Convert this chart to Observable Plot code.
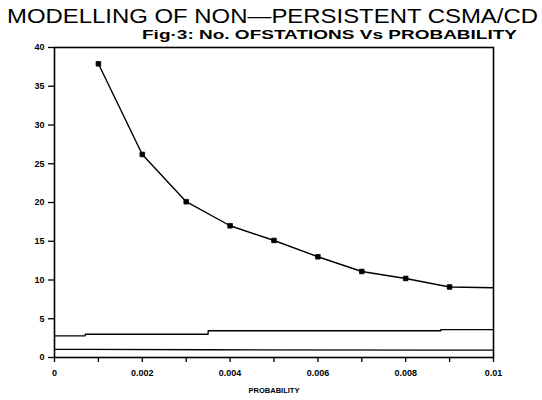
<!DOCTYPE html>
<html>
<head>
<meta charset="utf-8">
<script src="https://cdn.jsdelivr.net/npm/d3@7"></script>
<script src="https://cdn.jsdelivr.net/npm/@observablehq/plot@0.6"></script>
<style>
  html, body { margin: 0; padding: 0; background: #fff; }
  #wrap { position: relative; width: 542px; height: 400px; overflow: hidden; }
  #wrap svg.plot { position: absolute; left: 0; top: 0; }
  #titles { position: absolute; left: 0; top: 0; }
</style>
</head>
<body>
<div id="wrap"></div>
<script>
// ---- data ----
const titleText = "MODELLING OF NON\u2014PERSISTENT CSMA/CD";
const subtitleText = "Fig\u00b73: No. OFSTATIONS Vs PROBABILITY";
const xLabel = "PROBABILITY";

// main curve: number of stations vs probability
const probability = [0.001, 0.002, 0.003, 0.004, 0.005, 0.006, 0.007, 0.008, 0.009, 0.010];
const stations    = [37.9, 26.2, 20.1, 17.0, 15.1, 13.0, 11.1, 10.2, 9.1, 9.0];
const markerProb  = [0.001, 0.002, 0.003, 0.004, 0.005, 0.006, 0.007, 0.008, 0.009];
const markerVal   = [37.9, 26.2, 20.1, 17.0, 15.1, 13.0, 11.1, 10.2, 9.1];

// two flat reference lines near the bottom
const flatProb  = [0, 0.0007, 0.0007, 0.0035, 0.0035, 0.0088, 0.0088, 0.010];
const upperLine = [2.8, 2.8, 3.0, 3.0, 3.45, 3.45, 3.6, 3.6];
const lowerLine = [1.05, 1.05, 1.05, 1.0, 1.0, 0.95, 0.95, 0.95];

// axis ticks
const yTicks = [0, 5, 10, 15, 20, 25, 30, 35, 40];
const xMinorTicks = [0, 0.001, 0.002, 0.003, 0.004, 0.005, 0.006, 0.007, 0.008, 0.009, 0.010];
const xMajorTicks = [0, 0.002, 0.004, 0.006, 0.008, 0.010];
const xTickLabels = ["0", "0.002", "0.004", "0.006", "0.008", "0.01"];

// ---- build tables ----
const curve = probability.map((p, i) => ({p, v: stations[i]}));
const markers = markerProb.map((p, i) => ({p, v: markerVal[i]}));
const upper = flatProb.map((p, i) => ({p, v: upperLine[i]}));
const lower = flatProb.map((p, i) => ({p, v: lowerLine[i]}));

const font = "'Liberation Sans', Arial, sans-serif";

const chart = Plot.plot({
  width: 542,
  height: 400,
  marginLeft: 54,
  marginRight: 49,
  marginTop: 47,
  marginBottom: 43,
  style: {fontFamily: font, fontSize: "9px", fontWeight: "bold", color: "black", background: "white"},
  x: {domain: [0, 0.01]},
  y: {domain: [0, 40]},
  marks: [
    Plot.axisY({ticks: yTicks, tickSize: 6, tickPadding: 4, tickFormat: d => String(d), label: null, strokeWidth: 1.3}),
    Plot.axisX({ticks: xMinorTicks, tickSize: 5, tickFormat: () => "", label: null, strokeWidth: 1.3}),
    Plot.axisX({ticks: xMajorTicks, tickSize: 0, tickPadding: 12,
                tickFormat: d => xTickLabels[xMajorTicks.indexOf(d)], label: null}),
    Plot.frame({stroke: "black", strokeWidth: 1.6}),
    Plot.line(upper, {x: "p", y: "v", stroke: "black", strokeWidth: 1.3}),
    Plot.line(lower, {x: "p", y: "v", stroke: "black", strokeWidth: 1.3}),
    Plot.line(curve, {x: "p", y: "v", stroke: "black", strokeWidth: 1.4}),
    Plot.dot(markers, {x: "p", y: "v", symbol: "square", r: 2.6, fill: "black", stroke: "black", strokeWidth: 0.8}),
    Plot.text([xLabel], {frameAnchor: "bottom", dy: 35, text: d => d, fontSize: 7.5, fontWeight: "bold", fill: "black"})
  ]
});
chart.classList.add("plot");
const wrap = document.getElementById("wrap");
wrap.appendChild(chart);

// titles overlay
const t = d3.select("#wrap").append("svg").attr("id", "titles")
  .attr("width", 542).attr("height", 44);
t.append("text")
  .attr("x", 7).attr("y", 23)
  .attr("textLength", 531).attr("lengthAdjust", "spacingAndGlyphs")
  .style("font-family", font).style("font-size", "21px").style("fill", "black")
  .text(titleText);
t.append("text")
  .attr("x", 142).attr("y", 39)
  .attr("textLength", 375).attr("lengthAdjust", "spacingAndGlyphs")
  .style("font-family", font).style("font-size", "12px").style("font-weight", "bold")
  .style("fill", "black")
  .text(subtitleText);
</script>
</body>
</html>
